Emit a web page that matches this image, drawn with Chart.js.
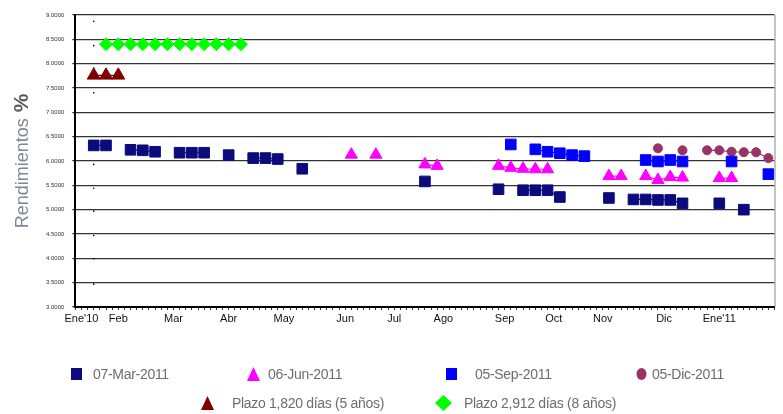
<!DOCTYPE html>
<html>
<head>
<meta charset="utf-8">
<script src="https://cdn.jsdelivr.net/npm/chart.js@4.4.1/dist/chart.umd.min.js"></script>
<style>
  html, body { margin: 0; padding: 0; background: #fff; }
  #wrap { position: relative; width: 783px; height: 414px; }
  #chart { position: absolute; left: 0; top: 0; }
  .legend-item { position: absolute; height: 16px; line-height: 16px; font: 14px 'Liberation Sans', Arial, sans-serif; letter-spacing: -0.3px; color: #6d6d6d; white-space: nowrap; }
  .legend-item svg { position: absolute; top: 0; }
</style>
</head>
<body>
<div id="wrap">
  <canvas id="chart" width="783" height="414"></canvas>
  <div id="legend"></div>
</div>
<script>
var weekCount = 57;
var monthLabels = ["Ene'10", 'Feb', 'Mar', 'Abr', 'May', 'Jun', 'Jul', 'Ago', 'Sep', 'Oct', 'Nov', 'Dic', "Ene'11"];
var monthWeeks = [0, 3, 7.5, 12, 16.5, 21.5, 25.5, 29.5, 34.5, 38.5, 42.5, 47.5, 52];

var mar07Weeks = [1, 2, 4, 5, 6, 8, 9, 10, 12, 14, 15, 16, 18, 28, 34, 36, 37, 38, 39, 43, 45, 46, 47, 48, 49, 52, 54];
var mar07Values = [6.32, 6.32, 6.23, 6.22, 6.19, 6.17, 6.17, 6.17, 6.12, 6.06, 6.06, 6.04, 5.84, 5.58, 5.42, 5.40, 5.40, 5.40, 5.26, 5.24, 5.21, 5.21, 5.20, 5.20, 5.13, 5.13, 5.00];

var jun06Weeks = [22, 24, 28, 29, 34, 35, 36, 37, 38, 43, 44, 46, 47, 48, 49, 52, 53];
var jun06Values = [6.13, 6.13, 5.93, 5.90, 5.90, 5.86, 5.84, 5.83, 5.83, 5.69, 5.69, 5.69, 5.61, 5.67, 5.66, 5.65, 5.65];

var sep05Weeks = [35, 37, 38, 39, 40, 41, 46, 47, 48, 49, 53, 56];
var sep05Values = [6.34, 6.24, 6.19, 6.16, 6.12, 6.10, 6.02, 5.99, 6.02, 5.99, 5.99, 5.73];

var dic05Weeks = [47, 49, 51, 52, 53, 54, 55, 56];
var dic05Values = [6.26, 6.22, 6.22, 6.22, 6.19, 6.18, 6.18, 6.06];

var plazo5Weeks = [1, 2, 3];
var plazo5Values = [7.76, 7.76, 7.76];

var plazo8Weeks = [2, 3, 4, 5, 6, 7, 8, 9, 10, 11, 12, 13];
var plazo8Values = [8.40, 8.40, 8.40, 8.40, 8.40, 8.40, 8.40, 8.40, 8.40, 8.40, 8.40, 8.40];

var dotWeek = 1;
var dotValues = [8.87, 8.37, 7.91, 7.40, 5.93, 5.44, 4.97, 4.47, 3.99, 3.47];

var fontName = "'Liberation Sans', Arial, sans-serif";

// legend spots: [marker center x, text left x, row center y]
var legendSpots = [[76, 93, 374], [253, 268, 374], [451, 475, 374], [641, 652, 374], [207, 232, 403], [443, 464, 403]];

function buildSeries(weeks, values) {
  var data = [];
  for (var i = 0; i < weekCount; i++) {
    var k = weeks.indexOf(i);
    data.push({ x: i, y: k >= 0 ? values[k] : null });
  }
  return data;
}

function makeDataset(label, weeks, values, color, style, radius) {
  return {
    label: label,
    data: buildSeries(weeks, values),
    borderColor: color,
    backgroundColor: color,
    borderWidth: 1.2,
    pointStyle: style,
    pointRadius: radius,
    pointHoverRadius: radius,
    pointBackgroundColor: color,
    pointBorderColor: color,
    pointBorderWidth: 1,
    spanGaps: false,
    tension: 0
  };
}

var frameLines = {
  id: 'frameLines',
  afterDraw: function(chart) {
    var a = chart.chartArea, ctx = chart.ctx;
    ctx.save();
    ctx.strokeStyle = '#8a8a8a';
    ctx.lineWidth = 1;
    ctx.beginPath();
    ctx.moveTo(a.right + 0.5, a.top);
    ctx.lineTo(a.right + 0.5, a.bottom);
    ctx.stroke();

    // y title: "Rendimientos" plus a bold "%"
    var mid = (a.top + a.bottom) / 2;
    ctx.translate(23, mid);
    ctx.rotate(-Math.PI / 2);
    ctx.textBaseline = 'middle';
    ctx.textAlign = 'left';
    ctx.font = '18px ' + fontName;
    var w1 = ctx.measureText('Rendimientos').width;
    ctx.font = 'bold 21px ' + fontName;
    var w2 = ctx.measureText('%').width;
    var start = -(w1 + 6 + w2) / 2;
    ctx.font = '18px ' + fontName;
    ctx.fillStyle = '#7d8898';
    ctx.fillText('Rendimientos', start, 0);
    ctx.font = 'bold 21px ' + fontName;
    ctx.fillStyle = '#5a5a5a';
    ctx.fillText('%', start + w1 + 6, -1);
    ctx.restore();
  }
};

var datasets = [
  makeDataset('07-Mar-2011', mar07Weeks, mar07Values, '#0b0b7d', 'rect', 7.5),
  makeDataset('06-Jun-2011', jun06Weeks, jun06Values, '#ff00ff', 'triangle', 7),
  makeDataset('05-Sep-2011', sep05Weeks, sep05Values, '#0000ff', 'rect', 7.5),
  makeDataset('05-Dic-2011', dic05Weeks, dic05Values, '#993366', 'circle', 4.5),
  makeDataset('Plazo 1,820 días (5 años)', plazo5Weeks, plazo5Values, '#800000', 'triangle', 7.5),
  makeDataset('Plazo 2,912 días (8 años)', plazo8Weeks, plazo8Values, '#00ff00', 'rectRot', 6.5),
  {
    label: '',
    data: dotValues.map(function(v) { return { x: dotWeek, y: v }; }),
    showLine: false,
    pointRadius: 0.8,
    pointBackgroundColor: '#000',
    pointBorderColor: '#000',
    pointBorderWidth: 0
  }
];

var chart = new Chart(document.getElementById('chart'), {
  type: 'line',
  data: { datasets: datasets },
  plugins: [frameLines],
  options: {
    responsive: false,
    animation: false,
    devicePixelRatio: 1,
    layout: { padding: { left: 38, right: 3, top: 15, bottom: 62 } },
    plugins: {
      tooltip: { enabled: false },
      legend: { display: false }
    },
    scales: {
      x: {
        type: 'linear',
        min: -0.5,
        max: weekCount - 0.5,
        afterBuildTicks: function(scale) {
          var t = [];
          for (var v = -0.5; v <= weekCount - 0.5; v += 0.5) t.push({ value: v });
          scale.ticks = t;
        },
        afterFit: function(scale) { scale.height = 45; },
        grid: { drawOnChartArea: false, drawTicks: true, tickLength: 3, color: '#333' },
        border: { display: true, color: '#000', width: 2 },
        ticks: {
          autoSkip: false,
          maxRotation: 0,
          padding: 2,
          color: '#111',
          font: { family: fontName, size: 11 },
          callback: function(value) {
            var k = monthWeeks.indexOf(value);
            return k >= 0 ? monthLabels[k] : '';
          }
        }
      },
      y: {
        min: 3,
        max: 9,
        grid: { color: '#333', lineWidth: 1.3, tickLength: 3 },
        border: { display: true, color: '#000', width: 2 },
        ticks: {
          stepSize: 0.5,
          padding: 8,
          color: '#333',
          font: { family: fontName, size: 6 },
          callback: function(value) { return value.toFixed(4); }
        }
      }
    }
  }
});

function markerSvg(style, color) {
  var shape;
  if (style === 'rect') shape = '<rect x="3" y="2" width="11" height="12" fill="' + color + '"/>';
  else if (style === 'triangle') shape = '<polygon points="8.5,1 15,15 2,15" fill="' + color + '"/>';
  else if (style === 'circle') shape = '<ellipse cx="8.5" cy="8" rx="5" ry="6" fill="' + color + '"/>';
  else shape = '<polygon points="8.5,0 17,8 8.5,16 0,8" fill="' + color + '"/>';
  return '<svg width="17" height="16" viewBox="0 0 17 16">' + shape + '</svg>';
}

function drawLegend(chart) {
  var box = document.getElementById('legend');
  chart.data.datasets.forEach(function(ds, i) {
    if (!ds.label) return;
    var spot = legendSpots[i];
    var item = document.createElement('div');
    item.className = 'legend-item';
    item.style.left = (spot[0] - 8.5) + 'px';
    item.style.top = (spot[2] - 8) + 'px';
    item.innerHTML = markerSvg(ds.pointStyle, ds.pointBackgroundColor) +
      '<span style="position:absolute;left:' + (spot[1] - spot[0] + 8.5) + 'px">' + ds.label + '</span>';
    box.appendChild(item);
  });
}

drawLegend(chart);
</script>
</body>
</html>
